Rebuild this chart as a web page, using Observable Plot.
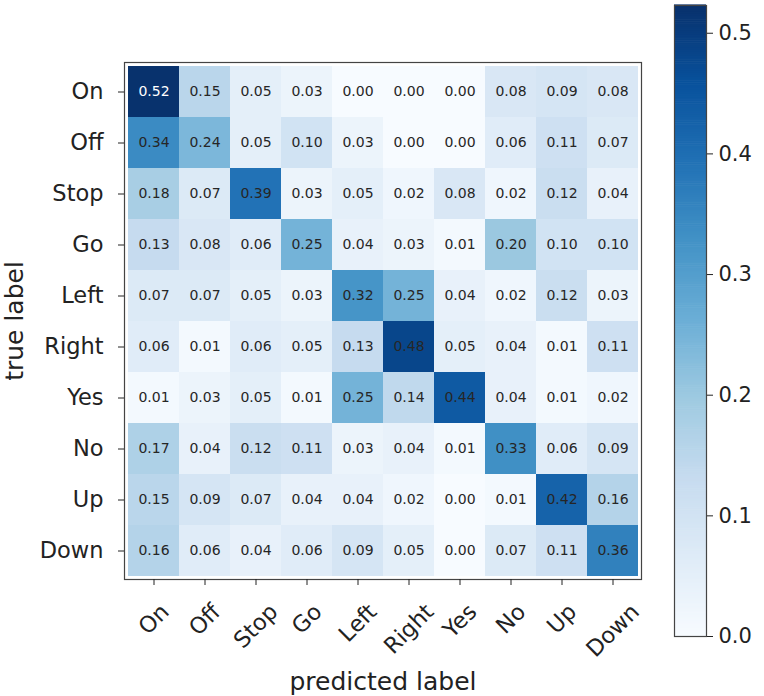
<!DOCTYPE html>
<html>
<head>
<meta charset="utf-8">
<script src="https://cdn.jsdelivr.net/npm/d3@7"></script>
<script src="https://cdn.jsdelivr.net/npm/@observablehq/plot@0.6"></script>
<style>
  html, body { margin: 0; padding: 0; background: #fff; }
  #wrap { position: relative; width: 764px; height: 696px; font-family: "DejaVu Sans", sans-serif; }
  #main { position: absolute; left: 0; top: 0; }
  #cbar { position: absolute; left: 660px; top: 0; }
</style>
</head>
<body>
<div id="wrap"><div id="main"></div><div id="cbar"></div></div>
<script>
const labels = ["On", "Off", "Stop", "Go", "Left", "Right", "Yes", "No", "Up", "Down"];
const rowOn    = [0.52, 0.15, 0.05, 0.03, 0.00, 0.00, 0.00, 0.08, 0.09, 0.08];
const rowOff   = [0.34, 0.24, 0.05, 0.10, 0.03, 0.00, 0.00, 0.06, 0.11, 0.07];
const rowStop  = [0.18, 0.07, 0.39, 0.03, 0.05, 0.02, 0.08, 0.02, 0.12, 0.04];
const rowGo    = [0.13, 0.08, 0.06, 0.25, 0.04, 0.03, 0.01, 0.20, 0.10, 0.10];
const rowLeft  = [0.07, 0.07, 0.05, 0.03, 0.32, 0.25, 0.04, 0.02, 0.12, 0.03];
const rowRight = [0.06, 0.01, 0.06, 0.05, 0.13, 0.48, 0.05, 0.04, 0.01, 0.11];
const rowYes   = [0.01, 0.03, 0.05, 0.01, 0.25, 0.14, 0.44, 0.04, 0.01, 0.02];
const rowNo    = [0.17, 0.04, 0.12, 0.11, 0.03, 0.04, 0.01, 0.33, 0.06, 0.09];
const rowUp    = [0.15, 0.09, 0.07, 0.04, 0.04, 0.02, 0.00, 0.01, 0.42, 0.16];
const rowDown  = [0.16, 0.06, 0.04, 0.06, 0.09, 0.05, 0.00, 0.07, 0.11, 0.36];
const colorbarTicks = [0.0, 0.1, 0.2, 0.3, 0.4, 0.5];
const colorMax = 0.523;

const rows = [rowOn, rowOff, rowStop, rowGo, rowLeft, rowRight, rowYes, rowNo, rowUp, rowDown];
const data = [];
rows.forEach((r, i) => r.forEach((v, j) => data.push({t: labels[i], p: labels[j], v})));

// matplotlib "Blues" colormap stops (ColorBrewer 9-class, linearly interpolated)
const bluesStops = ["#f7fbff", "#deebf7", "#c6dbef", "#9ecae1", "#6baed6", "#4292c6", "#2171b5", "#08519c", "#08306b"];
const color = {type: "linear", domain: bluesStops.map((_, i) => i * colorMax / (bluesStops.length - 1)),
  range: bluesStops, interpolate: "rgb", clamp: true};
const font = "DejaVu Sans, sans-serif";
const tickFont = 22.5;

// measure label widths so that rotated labels are centred under their ticks (matplotlib style)
const ctx = document.createElement("canvas").getContext("2d");
ctx.font = `${tickFont}px "DejaVu Sans"`;
const xTickMarks = labels.map(l => {
  const w = ctx.measureText(l).width;
  const dy = 602 + (w + 16) / (2 * Math.SQRT2) - 579;
  return Plot.text([l], {x: d => d, frameAnchor: "bottom", text: d => d, rotate: -45,
    textAnchor: "middle", lineAnchor: "middle", fontSize: tickFont, fill: "#222", dy});
});

const main = Plot.plot({
  width: 660, height: 696,
  marginLeft: 124, marginRight: 19, marginTop: 62, marginBottom: 117,
  style: {fontFamily: font, background: "#fff", color: "#222"},
  x: {domain: labels, padding: 0},
  y: {domain: labels, padding: 0},
  color,
  marks: [
    Plot.cell(data, {x: "p", y: "t", fill: "v"}),
    Plot.text(data, {x: "p", y: "t", text: d => d.v.toFixed(2), fontSize: 14,
      fill: d => d.v > 0.5 ? "#fff" : "#262626"}),
    Plot.frame({stroke: "#444", strokeWidth: 1.2}),
    Plot.axisX({anchor: "bottom", tickSize: 6, tickFormat: () => "",
      label: "predicted label", labelAnchor: "center", labelOffset: 110, labelArrow: "none"}),
    ...xTickMarks,
    Plot.axisY({anchor: "left", tickSize: 6, tickPadding: 15, fontSize: tickFont,
      label: "true label", labelAnchor: "center", labelOffset: 119, labelArrow: "none"})
  ]
});
main.querySelectorAll("g[aria-label='x-axis label'] text, g[aria-label='y-axis label'] text").forEach(t => t.setAttribute("font-size", 25));
document.getElementById("main").appendChild(main);

const steps = d3.range(0, colorMax, colorMax / 300).map(v => ({v0: v, v1: v + colorMax / 300 + 0.0005}));
const cbar = Plot.plot({
  width: 104, height: 696,
  marginLeft: 14, marginRight: 58, marginTop: 5, marginBottom: 60,
  style: {fontFamily: font, background: "transparent", color: "#222"},
  x: {domain: [0, 1], axis: null},
  y: {domain: [0, colorMax]},
  color,
  marks: [
    Plot.rectY(steps, {x1: 0, x2: 1, y1: "v0", y2: "v1", fill: "v0"}),
    Plot.frame({stroke: "#444", strokeWidth: 1.2}),
    Plot.axisY({anchor: "right", ticks: colorbarTicks, tickFormat: d3.format(".1f"), tickSize: 6, tickPadding: 6, fontSize: 21, label: null})
  ]
});
document.getElementById("cbar").appendChild(cbar);
</script>
</body>
</html>
